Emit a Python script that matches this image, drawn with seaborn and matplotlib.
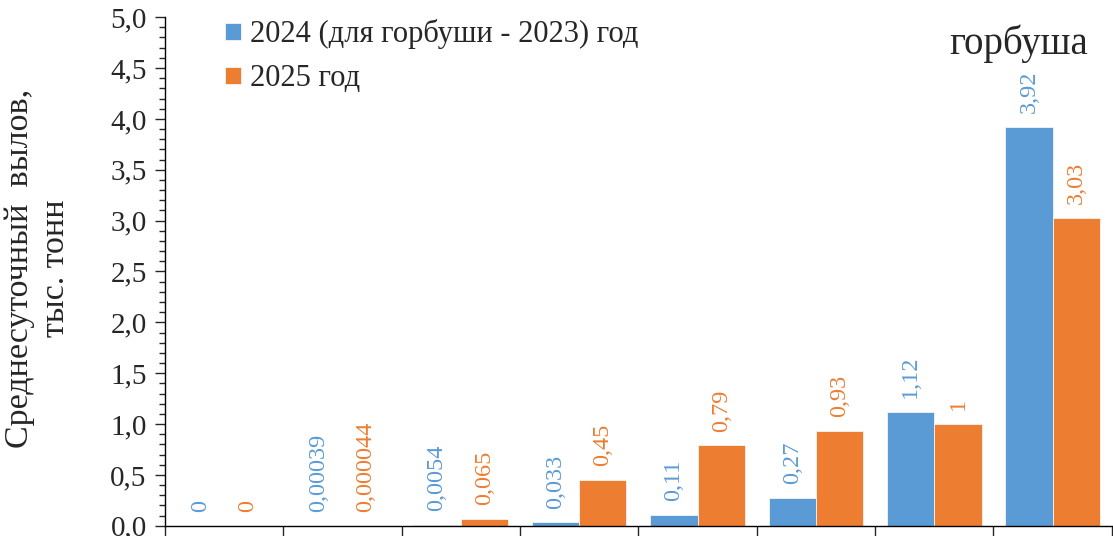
import matplotlib
matplotlib.use("Agg")
import matplotlib.pyplot as plt
import matplotlib.ticker as ticker
import seaborn as sns
import pandas as pd

# data
groups = ["1", "2", "3", "4", "5", "6", "7", "8"]
series_names = ["2024 (для горбуши - 2023) год", "2025 год"]
values_2024 = [0, 0.00039, 0.0054, 0.033, 0.11, 0.27, 1.12, 3.92]
values_2025 = [0, 0.000044, 0.065, 0.45, 0.79, 0.93, 1, 3.03]
colors = ["#5B9BD5", "#ED7D31"]


def fmt_value(v):
    s = f"{v:.6f}".rstrip("0").rstrip(".")
    return s.replace(".", ",")


df = pd.DataFrame({
    "group": groups * 2,
    "series": [series_names[0]] * len(groups) + [series_names[1]] * len(groups),
    "value": values_2024 + values_2025,
})

sns.set_style("ticks")
plt.rcParams["font.family"] = ["Liberation Serif", "DejaVu Serif"]

fig = plt.figure(figsize=(11.13, 5.36), dpi=100)
ax = fig.add_axes([0.148, 0.019, 0.851, 0.949])

sns.barplot(
    data=df, x="group", y="value", hue="series",
    palette=colors, saturation=1, width=0.8, ax=ax,
    edgecolor="#f4f4f4", linewidth=0.6, legend=True,
)

# value labels above bars
for container, vals, col in zip(ax.containers, [values_2024, values_2025], colors):
    ax.bar_label(container, labels=[fmt_value(v) for v in vals], padding=10,
                 rotation=90, color=col, fontsize=17.5)

ax.set_ylim(0, 5.0)
ax.set_xlim(-0.5, len(groups) - 0.5)
ax.yaxis.set_major_locator(ticker.MultipleLocator(0.5))
ax.yaxis.set_minor_locator(ticker.MultipleLocator(0.1))
ax.yaxis.set_major_formatter(ticker.FuncFormatter(lambda v, p: f"{v:.1f}".replace(".", ",")))
ax.tick_params(axis="y", which="major", length=7, width=1, labelsize=21, pad=6)
ax.tick_params(axis="y", which="minor", length=4, width=1)

ax.set_xticks([i - 0.5 for i in range(len(groups) + 1)])
ax.set_xticklabels([])
ax.tick_params(axis="x", length=10, width=1)
ax.set_xlabel("")
ax.set_ylabel("")

for side in ["top", "right"]:
    ax.spines[side].set_visible(False)
for side in ["left", "bottom"]:
    ax.spines[side].set_color("black")
    ax.spines[side].set_linewidth(1)

leg = ax.legend(loc="upper left", bbox_to_anchor=(0.035, 1.05), frameon=False,
                fontsize=22, handlelength=0.5, handleheight=0.5,
                handletextpad=0.3, labelspacing=0.5)

ax.text(0.975, 0.947, "горбуша", transform=ax.transAxes, ha="right",
        va="center", fontsize=28)

fig.text(0.034, 0.5, "Среднесуточный  вылов,\nтыс. тонн", rotation=90,
         ha="center", va="center", fontsize=24.5, linespacing=1.2,
         multialignment="center")

fig.savefig("out.png", dpi=100)
